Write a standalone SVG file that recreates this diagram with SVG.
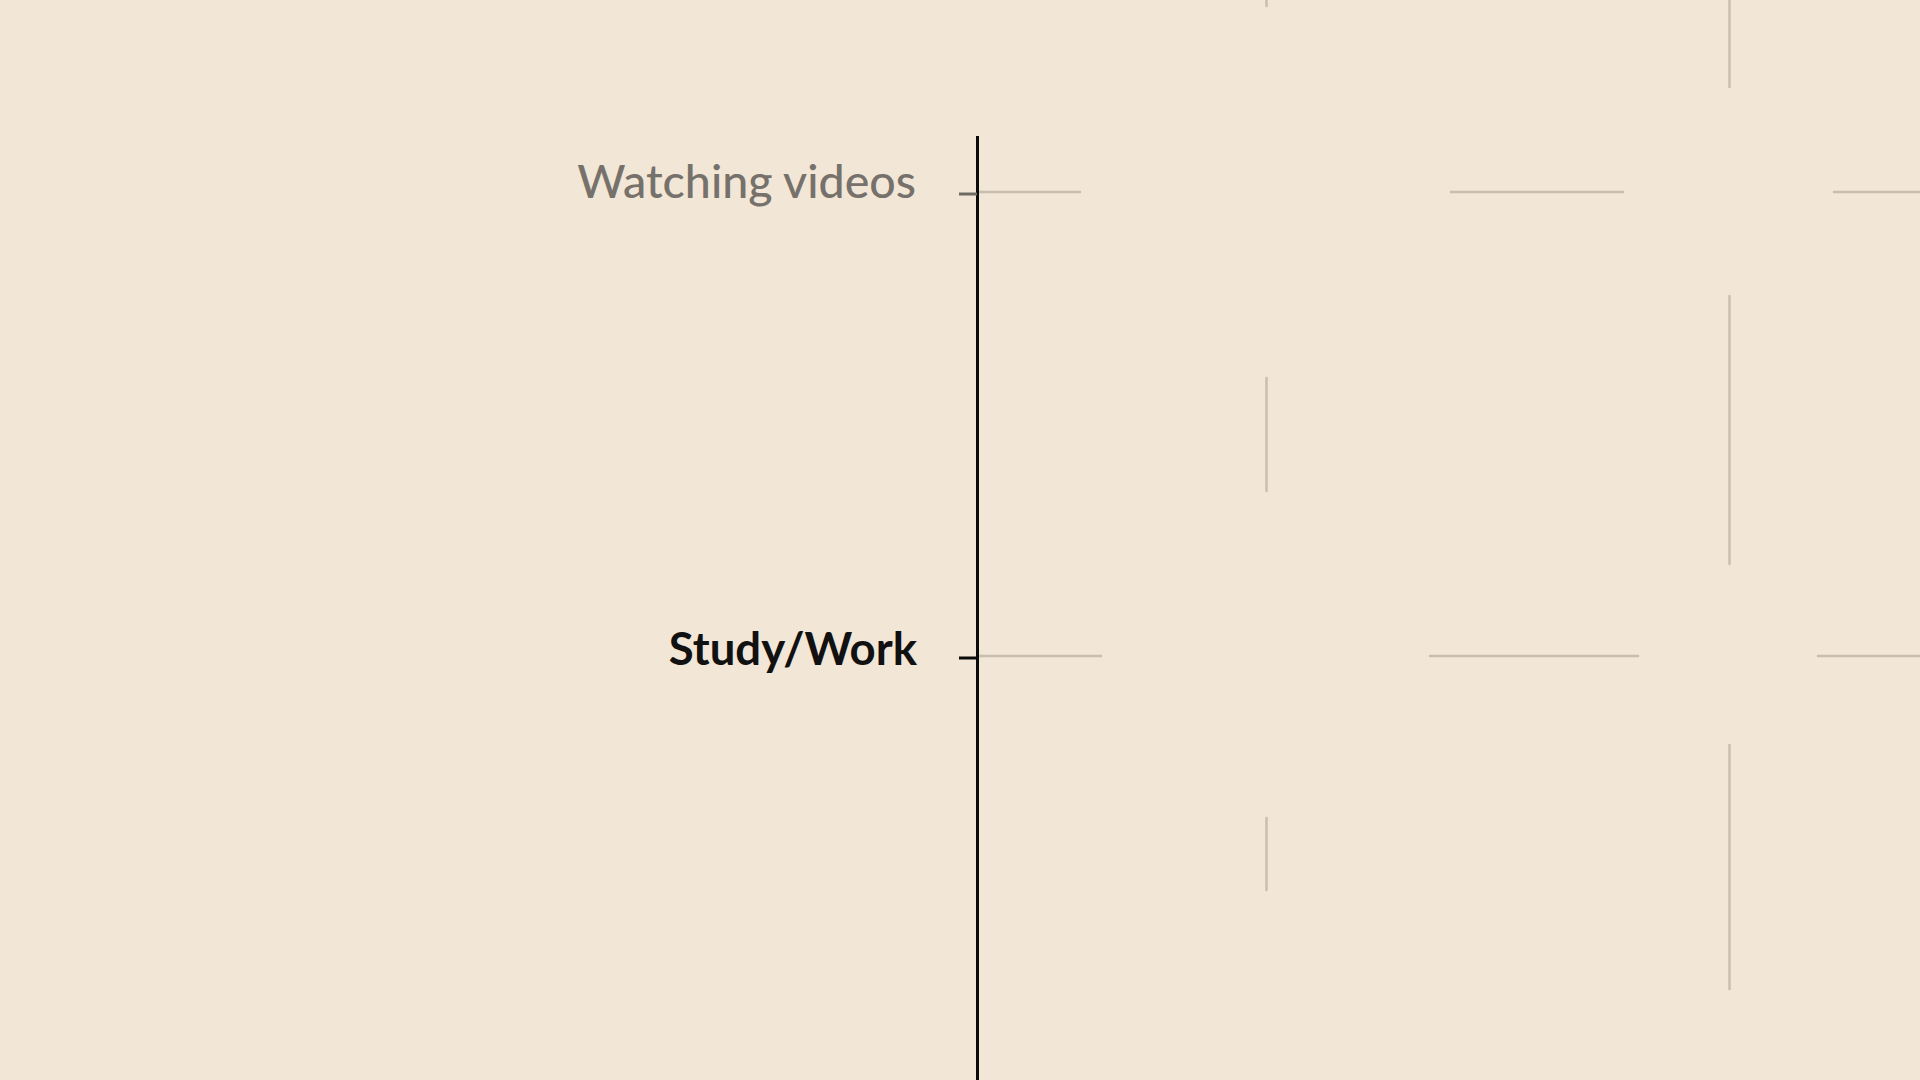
<svg xmlns="http://www.w3.org/2000/svg" width="1920" height="1080" viewBox="0 0 1920 1080">
  <style>
    .bg { fill: #f2e6d6; }
    .grid { stroke: #c8beb1; stroke-width: 2.5; stroke-linecap: round; fill: none; }
    .axis { stroke: #0a0a0a; stroke-width: 3; fill: none; }
    .tick { stroke-width: 3; fill: none; }
    .label { font-family: "Lato", "Liberation Sans", sans-serif; text-anchor: end; }
  </style>
  <rect class="bg" x="0" y="0" width="1920" height="1080"/>
  <g id="connectors">
    <line class="grid" x1="977" y1="192" x2="1080" y2="192"/>
    <line class="grid" x1="1451" y1="192" x2="1623" y2="192"/>
    <line class="grid" x1="1834" y1="192" x2="1922" y2="192"/>
    <line class="grid" x1="977" y1="656" x2="1101" y2="656"/>
    <line class="grid" x1="1430" y1="656" x2="1638" y2="656"/>
    <line class="grid" x1="1818" y1="656" x2="1922" y2="656"/>
    <line class="grid" x1="1266.5" y1="-2" x2="1266.5" y2="6"/>
    <line class="grid" x1="1266.5" y1="378" x2="1266.5" y2="491"/>
    <line class="grid" x1="1266.5" y1="818" x2="1266.5" y2="890"/>
    <line class="grid" x1="1729.5" y1="-2" x2="1729.5" y2="87"/>
    <line class="grid" x1="1729.5" y1="296" x2="1729.5" y2="564"/>
    <line class="grid" x1="1729.5" y1="745" x2="1729.5" y2="989"/>
    <line class="axis" x1="977.5" y1="136" x2="977.5" y2="1082"/>
  </g>
  <g id="node-watching">
    <line class="tick" stroke="#6e6a64" x1="959" y1="194" x2="977" y2="194"/>
    <text class="label" x="916" y="198" fill="#76716b" font-size="46.5" font-weight="500">Watching videos</text>
  </g>
  <g id="node-study">
    <line class="tick" stroke="#0a0a0a" x1="959" y1="658" x2="977" y2="658"/>
    <text class="label" x="917" y="665" fill="#111111" font-size="45.5" font-weight="700">Study/Work</text>
  </g>
</svg>
